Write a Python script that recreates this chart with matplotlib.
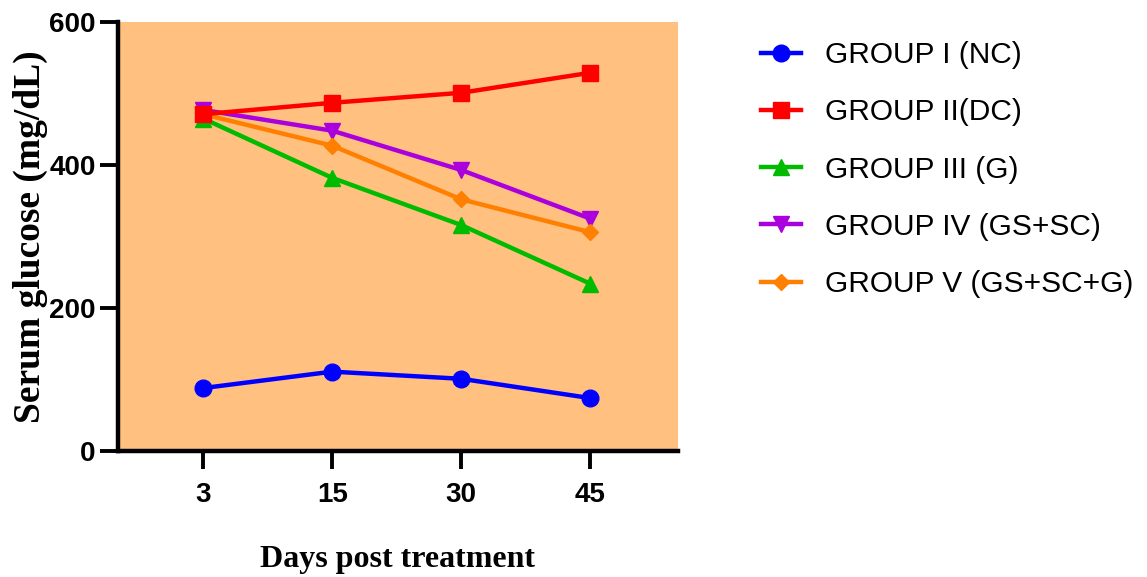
import matplotlib
matplotlib.use('Agg')
from matplotlib import pyplot as plt

# days post treatment (plotted as equally spaced categories)
days = ['3', '15', '30', '45']

group_names = ['GROUP I (NC)', 'GROUP II(DC)', 'GROUP III (G)',
               'GROUP IV (GS+SC)', 'GROUP V (GS+SC+G)']

g1_nc = [88, 111, 101, 74]
g2_dc = [471, 487, 501, 529]
g3_g = [465, 382, 316, 234]
g4_gs_sc = [477, 448, 393, 325]
g5_gs_sc_g = [471, 427, 352, 306]

colors = ['#0000FF', '#FF0000', '#00BB00', '#AA00DD', '#FF8000']
markers = ['o', 's', '^', 'v', 'D']
msizes = [12, 12, 12, 12, 8.5]

series = [g1_nc, g2_dc, g3_g, g4_gs_sc, g5_gs_sc_g]
# draw order so that red sits on top at day 3
zorders = [3, 7, 4, 5, 6]

fig = plt.figure(figsize=(11.47, 5.77), dpi=100)
ax = fig.add_axes([118/1147, 1 - 451/577, (678-118)/1147, (451-22)/577])
ax.set_facecolor('#FFC080')

xs = list(range(len(days)))
lines = []
for vals, name, c, m, ms, z in zip(series, group_names, colors, markers, msizes, zorders):
    ln, = ax.plot(xs, vals, color=c, marker=m, markersize=ms, linewidth=3.2,
                  label=name, zorder=z, clip_on=False)
    lines.append(ln)

ax.set_xlim(-0.66, 3.68)
ax.set_ylim(0, 600)
ax.set_xticks(xs)
ax.set_xticklabels(days)
ax.set_yticks([0, 200, 400, 600])

for side in ['top', 'right']:
    ax.spines[side].set_visible(False)
for side in ['left', 'bottom']:
    ax.spines[side].set_linewidth(3.2)

ax.tick_params(axis='both', direction='out', length=13, width=2.8, pad=3)
ax.tick_params(axis='x', pad=9)
for lab in ax.get_xticklabels() + ax.get_yticklabels():
    lab.set_fontfamily('Liberation Sans')
    lab.set_fontweight('bold')
    lab.set_fontsize(20)

ax.set_xlabel('Days post treatment', fontfamily='Liberation Serif',
              fontweight='bold', fontsize=23, labelpad=27)
ax.set_ylabel('Serum glucose (mg/dL)', fontfamily='Liberation Serif',
              fontweight='bold', fontsize=27, labelpad=1)

leg = fig.legend(handles=lines, loc='upper left',
                 bbox_to_anchor=(761/1147, 1 - 41/577),
                 frameon=False, borderpad=0, borderaxespad=0,
                 handlelength=1.35, handletextpad=0.8, labelspacing=0.98,
                 prop={'family': 'Liberation Sans', 'size': 21.5})

fig.savefig('out.png', dpi=100)
